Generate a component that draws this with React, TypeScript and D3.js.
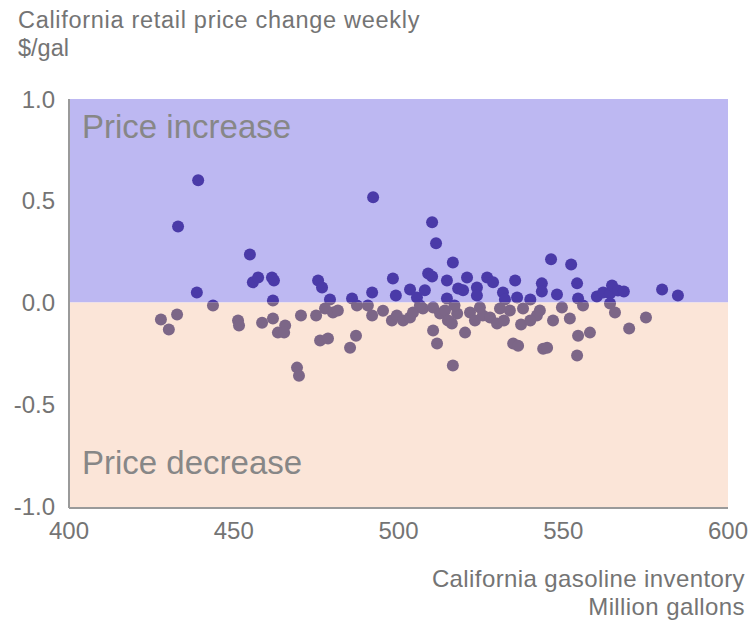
import React from "react";
import * as d3 from "d3";

// weekly observations: California gasoline inventory (million gallons) vs retail price change ($/gal)
const inventory = [
  433.1, 439.2, 438.8, 454.9, 455.8, 457.4, 461.6, 462.2, 461.9, 475.6,
  476.8, 479.2, 485.9, 492.0, 492.3, 498.3, 499.2, 503.5, 509.0, 510.2,
  510.2, 511.4, 514.7, 516.5, 514.7, 518.1, 520.8, 523.8, 523.8, 526.9,
  528.7, 531.7, 535.4, 536.0, 543.5, 543.5, 546.3, 548.1, 552.4, 554.2,
  554.5, 560.2, 562.1, 564.2, 564.8, 566.6, 568.4, 580.0, 584.8, 519.6,
  505.6, 508.0, 532.3, 540.0,
  427.9, 430.3, 432.8, 443.7, 451.3, 451.6, 458.6, 461.9, 463.4, 465.6,
  465.3, 469.2, 469.8, 470.4, 475.0, 476.2, 478.6, 477.7, 480.1, 481.6,
  485.3, 487.1, 487.4, 490.7, 492.0, 498.0, 499.5, 501.4, 503.5, 504.4,
  507.4, 510.5, 510.5, 511.7, 512.6, 514.1, 515.0, 516.2, 516.5, 517.8,
  520.2, 521.7, 523.2, 525.6, 527.8, 529.9, 530.8, 532.0, 533.8, 534.8,
  536.3, 537.2, 537.8, 542.0, 542.9, 543.9, 545.1, 546.9, 549.6, 552.0,
  554.2, 554.5, 556.0, 558.1, 564.2, 565.7, 570.0, 575.1,
  506.5, 517.0, 524.7, 540.0, 495.3,
];
const priceChange = [
  0.374, 0.601, 0.049, 0.236, 0.099, 0.123, 0.123, 0.108, 0.01, 0.108,
  0.074, 0.015, 0.02, 0.049, 0.517, 0.118, 0.034, 0.064, 0.143, 0.128,
  0.394, 0.291, 0.108, 0.197, 0.02, 0.069, 0.123, 0.074, 0.034, 0.123,
  0.099, 0.049, 0.108, 0.025, 0.094, 0.054, 0.212, 0.039, 0.187, 0.094,
  0.02, 0.03, 0.049, 0.044, 0.084, 0.059, 0.054, 0.064, 0.034, 0.06,
  0.025, 0.06, 0.015, 0.015,
  -0.084, -0.133, -0.059, -0.015, -0.089, -0.113, -0.099, -0.079, -0.148, -0.113,
  -0.148, -0.32, -0.36, -0.064, -0.064, -0.187, -0.177, -0.03, -0.049, -0.039,
  -0.222, -0.163, -0.015, -0.015, -0.064, -0.089, -0.064, -0.089, -0.074, -0.049,
  -0.03, -0.025, -0.138, -0.202, -0.054, -0.039, -0.089, -0.103, -0.31, -0.054,
  -0.148, -0.049, -0.089, -0.064, -0.074, -0.103, -0.03, -0.089, -0.039, -0.202,
  -0.212, -0.108, -0.03, -0.064, -0.039, -0.227, -0.222, -0.089, -0.025, -0.079,
  -0.261, -0.163, -0.015, -0.148, -0.005, -0.049, -0.128, -0.074,
  -0.015, -0.015, -0.025, -0.089, -0.04,
];
const xTicks = [400, 450, 500, 550, 600];
const yTicks = [1.0, 0.5, 0.0, -0.5, -1.0];

const font = "'Liberation Sans', Arial, sans-serif";
const textColor = "#747474";

const App = () => {
  const width = 753;
  const height = 625;
  const left = 69, right = 728, top = 99, bottom = 506;

  const x = d3.scaleLinear().domain([400, 600]).range([left, right]);
  const y = d3.scaleLinear().domain([-1, 1]).range([bottom, top]);

  const points = inventory.map((v, i) => ({ x: v, y: priceChange[i] }));

  // same dots drawn twice, each copy clipped to one region
  const dots = (fill) =>
    points.map((d, i) => (
      <circle key={i} cx={x(d.x)} cy={y(d.y)} r={6} fill={fill} />
    ));

  return (
    <svg
      width={width}
      height={height}
      style={{ position: "absolute", left: 0, top: 0, background: "#fff" }}
      fontFamily={font}
    >
      <defs>
        <clipPath id="clip-up">
          <rect x={left} y={top} width={right - left} height={y(0) - top} />
        </clipPath>
        <clipPath id="clip-down">
          <rect x={left} y={y(0)} width={right - left} height={bottom - y(0) + 2} />
        </clipPath>
      </defs>

      {/* title */}
      <text x={18} y={28} fontSize={23.5} fill={textColor} letterSpacing={0.7}>
        California retail price change weekly
      </text>
      <text x={18} y={56} fontSize={23.5} fill={textColor}>
        $/gal
      </text>

      {/* regions */}
      <rect x={left} y={top} width={right - left} height={y(0) - top} fill="#bdb8f2" />
      <rect x={left} y={y(0)} width={right - left} height={bottom - y(0) + 2} fill="#fbe5d8" />

      <text x={82} y={138} fontSize={33} fill="#878787">
        Price increase
      </text>
      <text x={82} y={474} fontSize={33} fill="#878787">
        Price decrease
      </text>

      <g clipPath="url(#clip-up)">{dots("#4a3aa8")}</g>
      <g clipPath="url(#clip-down)">{dots("#7c6687")}</g>

      {/* axes */}
      <line x1={left} x2={left} y1={top} y2={bottom + 2} stroke="#9a9a9a" strokeWidth={2} />
      <line x1={left} x2={right} y1={bottom + 2} y2={bottom + 2} stroke="#9a9a9a" strokeWidth={2} />

      {yTicks.map((t) => (
        <text
          key={t}
          x={55}
          y={y(t)}
          dy="0.36em"
          textAnchor="end"
          fontSize={24}
          fill={textColor}
        >
          {t.toFixed(1)}
        </text>
      ))}
      {xTicks.map((t) => (
        <text
          key={t}
          x={x(t)}
          y={539}
          textAnchor="middle"
          fontSize={24}
          fill={textColor}
        >
          {t}
        </text>
      ))}

      <text x={745} y={587} textAnchor="end" fontSize={24} fill={textColor} letterSpacing={0.4}>
        California gasoline inventory
      </text>
      <text x={745} y={615} textAnchor="end" fontSize={24} fill={textColor} letterSpacing={0.4}>
        Million gallons
      </text>
    </svg>
  );
};

export default App;
